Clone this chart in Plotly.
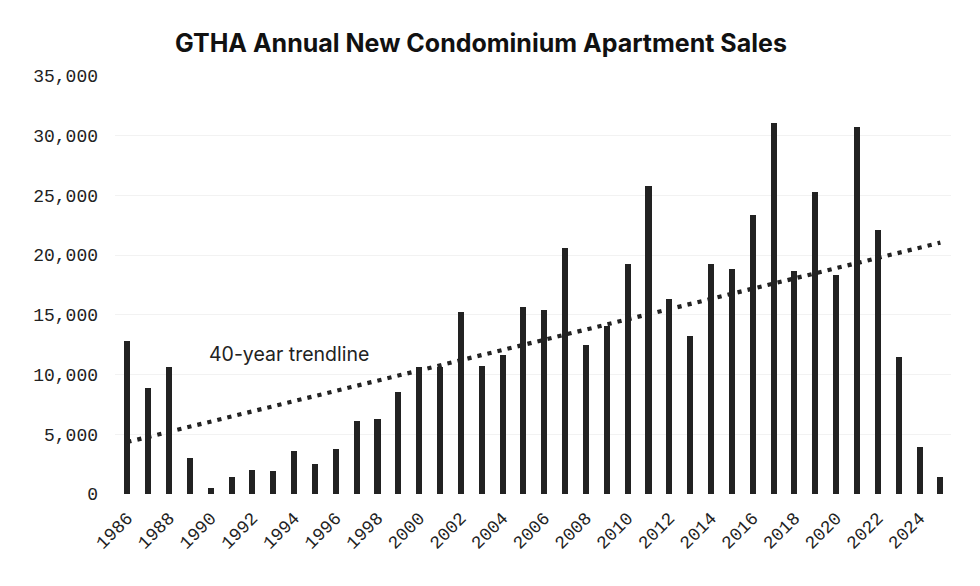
import plotly.graph_objects as go

years = list(range(1986, 2026))
sales = [12800, 8900, 10600, 3000, 500, 1400, 2000, 1950, 3600, 2500,
         3800, 6100, 6300, 8500, 10600, 10600, 15200, 10700, 11600, 15700,
         15400, 20600, 12500, 14100, 19300, 25800, 16300, 13200, 19300, 18800,
         23400, 31100, 18700, 25300, 18300, 30700, 22100, 11500, 3900, 1450]

trend_years = [1986, 2025]
trend_values = [4350, 21050]

tick_years = list(range(1986, 2026, 2))
y_ticks = [0, 5000, 10000, 15000, 20000, 25000, 30000, 35000]

title_text = "GTHA Annual New Condominium Apartment Sales"
trend_label = "40-year trendline"

fig = go.Figure()
fig.add_trace(go.Bar(
    x=years, y=sales, width=0.29,
    marker=dict(color="#222222", line=dict(width=0)),
    showlegend=False, hoverinfo="x+y",
))
fig.add_trace(go.Scatter(
    x=trend_years, y=trend_values, mode="lines",
    line=dict(color="#222222", width=4.2, dash="4.2px,6.1px"),
    showlegend=False, hoverinfo="skip",
))

fig.add_annotation(
    x=1989.82, y=11720, xref="x", yref="y", text=trend_label,
    showarrow=False, xanchor="left", yanchor="middle",
    font=dict(family="Inter", size=19.5, color="#222222"),
)

fig.update_layout(
    width=972, height=578,
    margin=dict(l=107, r=29, t=68, b=92),
    paper_bgcolor="white", plot_bgcolor="white",
    title=dict(text="<b>" + title_text + "</b>", xref="container", x=0.4866,
               xanchor="center", yref="container", y=0.9394, yanchor="middle",
               font=dict(family="Inter", size=25, color="#111111")),
    bargap=0,
)
fig.update_xaxes(
    range=[1985.41, 2025.51], tickmode="array", tickvals=tick_years,
    ticktext=[str(y) for y in tick_years], tickangle=-45,
    showgrid=False, zeroline=False, showline=False, ticks="",
    ticklabelstandoff=9,
    tickfont=dict(family="Liberation Mono", size=18, color="#222222"),
)
fig.update_yaxes(
    range=[0, 35000], tickmode="array", tickvals=y_ticks,
    ticktext=[f"{v:,}" for v in y_ticks],
    showgrid=True, gridcolor="#f2f2f2", gridwidth=1,
    zeroline=False, showline=False, ticks="", ticklabelstandoff=16,
    tickfont=dict(family="Liberation Mono", size=18, color="#222222"),
)

fig.write_html("out.html")
